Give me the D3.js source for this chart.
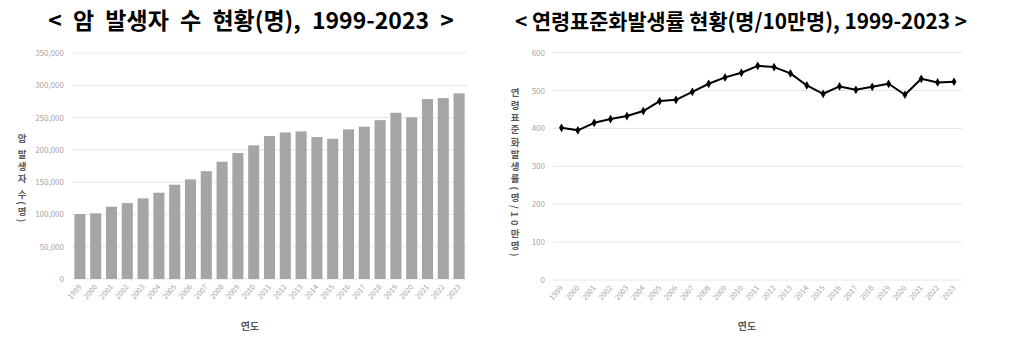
<html>
<head>
<script src="https://d3js.org/d3.v7.min.js"></script>
<style>
  body { margin: 0; background: #fff; }
  text { font-family: "Noto Sans CJK KR", "Noto Sans", sans-serif; }
</style>
</head>
<body>
<svg id="svg" width="1012" height="351"></svg>
<script>
var years = ["1999","2000","2001","2002","2003","2004","2005","2006","2007","2008","2009","2010",
             "2011","2012","2013","2014","2015","2016","2017","2018","2019","2020","2021","2022","2023"];
var cases = [100600,101700,112000,117600,124900,133600,146000,154300,167000,181600,195000,207000,
             221400,227000,228600,219800,217200,231700,235800,246000,257400,250300,278600,280200,287500];
var rates = [401.8,395,415,424.8,432.7,446,472.3,475.7,496.8,518,534.8,547,
             565.4,562,545.4,513.6,491.6,511,502,510,518,489,531,521.6,523.3];
var caseTicks = [0,50000,100000,150000,200000,250000,300000,350000];
var rateTicks = [0,100,200,300,400,500,600];

var svg = d3.select("#svg");
var gridColor = "#e6e6e6";
var tickColor = "#a6a6a6";
var titleColor = "#595959";

// ---------- left: bar chart ----------
var x1 = d3.scaleBand().domain(years).range([72, 467]).paddingInner(0.3).paddingOuter(0.15);
var y1 = d3.scaleLinear().domain([0, 350000]).range([279, 53]);

var g1 = svg.append("g");
g1.selectAll(".grid").data(caseTicks).enter().append("line")
    .attr("x1", 72).attr("x2", 467)
    .attr("y1", function(d){ return y1(d); }).attr("y2", function(d){ return y1(d); })
    .attr("stroke", gridColor).attr("stroke-width", 1);

g1.selectAll(".bar").data(cases).enter().append("rect")
    .attr("x", function(d,i){ return x1(years[i]); })
    .attr("y", function(d){ return y1(d); })
    .attr("width", x1.bandwidth())
    .attr("height", function(d){ return y1(0) - y1(d); })
    .attr("fill", "#a5a5a5");

g1.selectAll(".ytick").data(caseTicks).enter().append("text")
    .attr("x", 64).attr("y", function(d){ return y1(d) + 3; })
    .attr("text-anchor", "end").attr("font-size", 8).attr("fill", tickColor)
    .text(d3.format(","));

g1.selectAll(".xtick").data(years).enter().append("text")
    .attr("transform", function(d){ return "translate(" + (x1(d) + x1.bandwidth()/2 + 2) + ",287) rotate(-50)"; })
    .attr("text-anchor", "end").attr("font-size", 7.5).attr("fill", tickColor)
    .text(function(d){ return d; });

g1.append("text").attr("x", 22).attr("y", 134)
    .attr("writing-mode", "vertical-rl").attr("font-size", 9.5).attr("font-weight", "bold")
    .attr("fill", titleColor).attr("letter-spacing", 2.2)
    .text("암 발생자 수(명)");

g1.append("text").attr("x", 250).attr("y", 330).attr("text-anchor", "middle")
    .attr("font-size", 10).attr("font-weight", "bold").attr("fill", titleColor).text("연도");

svg.append("text").attr("x", 251).attr("y", 29).attr("text-anchor", "middle")
    .attr("font-size", 23).attr("font-weight", "bold").attr("fill", "#000")
    .attr("word-spacing", 6)
    .text("< 암 발생자 수 현황(명), 1999-2023 >");

// ---------- right: line chart ----------
var x2 = d3.scalePoint().domain(years).range([561.5, 954]);
var y2 = d3.scaleLinear().domain([0, 600]).range([280, 52.7]);

var g2 = svg.append("g");
g2.selectAll(".grid").data(rateTicks).enter().append("line")
    .attr("x1", 553).attr("x2", 962)
    .attr("y1", function(d){ return y2(d); }).attr("y2", function(d){ return y2(d); })
    .attr("stroke", gridColor).attr("stroke-width", 1);

var line = d3.line()
    .x(function(d,i){ return x2(years[i]); })
    .y(function(d){ return y2(d); });

g2.append("path").datum(rates).attr("d", line)
    .attr("fill", "none").attr("stroke", "#000").attr("stroke-width", 2)
    .attr("stroke-linejoin", "round");

g2.selectAll(".dot").data(rates).enter().append("path")
    .attr("transform", function(d,i){ return "translate(" + x2(years[i]) + "," + y2(d) + ")"; })
    .attr("d", d3.symbol().type(d3.symbolDiamond).size(22))
    .attr("fill", "#000");

g2.selectAll(".ytick").data(rateTicks).enter().append("text")
    .attr("x", 545).attr("y", function(d){ return y2(d) + 3; })
    .attr("text-anchor", "end").attr("font-size", 8).attr("fill", tickColor)
    .text(function(d){ return d; });

g2.selectAll(".xtick").data(years).enter().append("text")
    .attr("transform", function(d){ return "translate(" + (x2(d) + 2) + ",288) rotate(-50)"; })
    .attr("text-anchor", "end").attr("font-size", 7.5).attr("fill", tickColor)
    .text(function(d){ return d; });

g2.append("text").attr("x", 515).attr("y", 88)
    .attr("writing-mode", "vertical-rl").attr("font-size", 9.5).attr("font-weight", "bold")
    .attr("fill", titleColor).attr("letter-spacing", 2.8)
    .text("연령표준화발생률(명/10만명)");

g2.append("text").attr("x", 747).attr("y", 330).attr("text-anchor", "middle")
    .attr("font-size", 10).attr("font-weight", "bold").attr("fill", titleColor).text("연도");

svg.append("text").attr("x", 515).attr("y", 29)
    .attr("font-size", 21).attr("font-weight", "bold").attr("fill", "#000")
    .attr("textLength", 452).attr("lengthAdjust", "spacingAndGlyphs")
    .text("< 연령표준화발생률 현황(명/10만명), 1999-2023 >");
</script>
</body>
</html>
